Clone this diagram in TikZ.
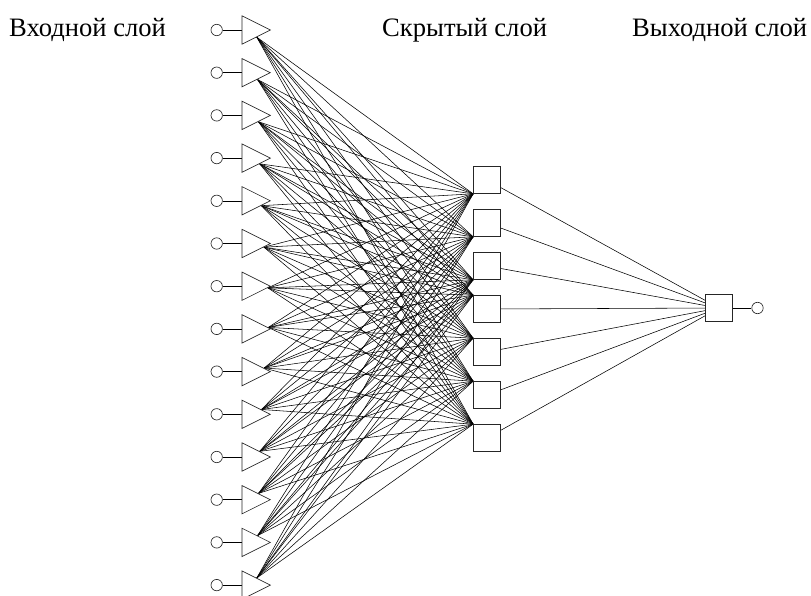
\documentclass[tikz,border=0pt]{standalone}
\usepackage{fontspec}
\setmainfont{Liberation Serif}
\usetikzlibrary{shapes.geometric}
\pgfdeclarelayer{bg}
\pgfsetlayers{bg,main}
\begin{document}
\begin{tikzpicture}[x=1pt,y=-1pt,
 inp/.style={circle,draw=black!85,line width=0.65pt,fill=white,minimum size=11.4pt,inner sep=0pt},
 tri/.style={isosceles triangle,isosceles triangle stretches,draw=black!85,line width=0.65pt,fill=white,minimum width=28.3pt,minimum height=28.3pt,inner sep=0pt,anchor=west},
 sq/.style={rectangle,draw=black!85,line width=0.65pt,fill=white,minimum size=27pt,inner sep=0pt},
 wire/.style={line width=0.55pt},
 lbl/.style={font=\fontsize{26.6}{32}\selectfont,anchor=base west,inner sep=0pt}]
\useasboundingbox (0,0) rectangle (811,596);
\foreach \i in {0,...,13}{
  \pgfmathsetmacro\yy{30+42.7*\i}
  \node[inp] (c\i) at (216.7,\yy) {};
  \node[tri] (t\i) at (241.7,\yy) {};
}
\foreach \j in {0,...,6}{
  \pgfmathsetmacro\yy{180+43*\j}
  \node[sq] (h\j) at (487,\yy) {};
}
\node[sq] (o) at (719,308) {};
\node[inp] (oc) at (757.5,308) {};
\node[lbl] (l1) at (9,37) {Входной слой};
\node[lbl] (l2) at (382,37) {Скрытый слой};
\node[lbl] (l3) at (632,37) {Выходной слой};
\begin{pgfonlayer}{bg}
\foreach \i in {0,...,13}{
  \draw[wire] (c\i) -- (t\i.west);
  \path (t\i) -- (h3) coordinate[pos=0] (s\i);
  \foreach \j in {0,1,2} \draw[wire] (s\i) -- (h\j.south west);
  \foreach \j in {3,...,6} \draw[wire] (s\i) -- (h\j.north west);
}
\foreach \j in {0,...,6} \draw[wire] (h\j) -- (o);
\draw[wire] (o) -- (oc);
\end{pgfonlayer}
\end{tikzpicture}
\end{document}
